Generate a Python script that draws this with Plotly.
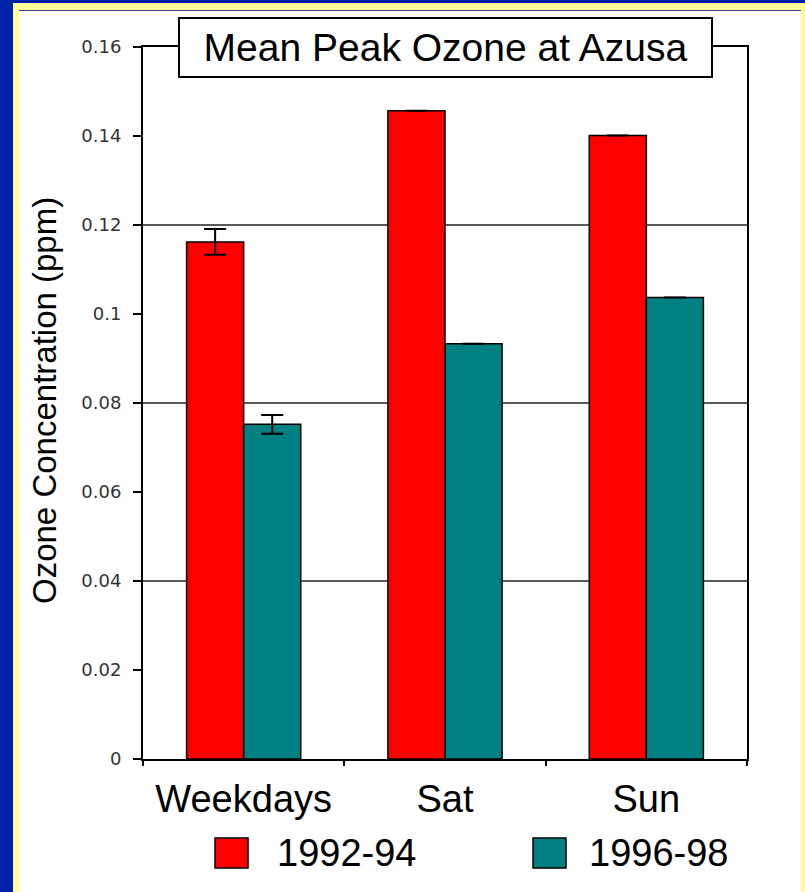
import plotly.graph_objects as go

# ---- data -------------------------------------------------------------
categories = ["Weekdays", "Sat", "Sun"]
series_names = ["1992-94", "1996-98"]
ozone_1992_94 = [0.1162, 0.1457, 0.1401]
ozone_1996_98 = [0.0752, 0.0933, 0.1037]
err_1992_94 = [0.0029, None, None]
err_1996_98 = [0.0021, None, None]
y_ticks = [0, 0.02, 0.04, 0.06, 0.08, 0.10, 0.12, 0.14, 0.16]
y_tick_labels = ["0", "0.02", "0.04", "0.06", "0.08", "0.1", "0.12", "0.14", "0.16"]
grid_values = [0.04, 0.08, 0.12]
title_text = "Mean Peak Ozone at Azusa"
y_title = "Ozone Concentration (ppm)"

# ---- styling ----------------------------------------------------------
RED = "#FF0000"
TEAL = "#008080"
BLUE = "#0022A8"
YELLOW = "#FFFF99"
FONT = "Liberation Sans, Arial, sans-serif"

W, H = 805, 892
L, R, T, B = 143, 747, 47, 759  # plot area edges in pixels


def px(x):
    return (x - L) / (R - L)


def py(y):
    return (B - y) / (B - T)


fig = go.Figure()
for name, vals, errs, color in [
    (series_names[0], ozone_1992_94, err_1992_94, RED),
    (series_names[1], ozone_1996_98, err_1996_98, TEAL),
]:
    fig.add_trace(go.Bar(
        name=name, x=categories, y=vals,
        marker=dict(color=color, line=dict(color="black", width=1.5)),
        error_y=dict(type="data", array=errs, visible=True,
                     color="black", thickness=2, width=11),
        showlegend=False,
    ))

shapes = [
    # slide frame: yellow rule and white panel
    dict(type="rect", xref="paper", yref="paper", layer="below",
         x0=px(13), x1=px(820), y0=py(910), y1=py(3),
         fillcolor=YELLOW, line=dict(width=0)),
    dict(type="rect", xref="paper", yref="paper", layer="below",
         x0=px(19), x1=px(801), y0=py(910), y1=py(10),
         fillcolor="white", line=dict(width=0)),
    dict(type="line", xref="paper", yref="paper", layer="below",
         x0=px(19), x1=px(801), y0=py(10.5), y1=py(10.5),
         line=dict(color="#404088", width=1)),
]
for g in grid_values:
    shapes.append(dict(type="line", xref="paper", yref="y", layer="below",
                       x0=0, x1=1, y0=g, y1=g,
                       line=dict(color="#222222", width=1.5)))

# legend swatches and labels
legend_items = [(RED, 215, 248, 275), (TEAL, 533, 566, 587)]
annotations = []
for (color, xa, xb, xt), name in zip(legend_items, series_names):
    shapes.append(dict(type="rect", xref="paper", yref="paper",
                       x0=px(xa), x1=px(xb), y0=py(868), y1=py(838),
                       fillcolor=color, line=dict(color="black", width=1.5)))
    annotations.append(dict(text=name, xref="paper", yref="paper",
                            x=px(xt), y=py(853), xanchor="left", yanchor="middle",
                            showarrow=False, font=dict(family=FONT, size=38, color="black")))

# boxed title sitting on the top frame line
annotations.append(dict(text=title_text, xref="paper", yref="paper",
                        x=0.5, y=1, xanchor="center", yanchor="middle",
                        showarrow=False, bgcolor="white", bordercolor="black",
                        borderwidth=2, borderpad=0, width=531, height=57,
                        font=dict(family=FONT, size=39, color="black")))
# y-axis title
annotations.append(dict(text=y_title, xref="paper", yref="paper",
                        x=px(44), y=py(401), xanchor="center", yanchor="middle",
                        textangle=-90, showarrow=False,
                        font=dict(family=FONT, size=33, color="black")))

fig.update_layout(
    width=W, height=H,
    margin=dict(l=L, r=W - R, t=T, b=H - B, pad=0),
    paper_bgcolor=BLUE, plot_bgcolor="white",
    barmode="group", bargap=0.433, bargroupgap=0,
    shapes=shapes, annotations=annotations,
    showlegend=False,
)
fig.update_yaxes(
    range=[0, 0.16], tickvals=y_ticks, ticktext=y_tick_labels,
    ticks="outside", ticklen=8, tickwidth=2, tickcolor="black",
    ticklabelstandoff=8,
    showline=True, linecolor="black", linewidth=2, mirror=True,
    showgrid=False, zeroline=False,
    tickfont=dict(family="DejaVu Sans, sans-serif", size=18, color="#333333"),
)
fig.update_xaxes(
    type="category", tickson="boundaries",
    ticks="outside", ticklen=5, tickwidth=2, tickcolor="black",
    ticklabelstandoff=5,
    showline=True, linecolor="black", linewidth=2, mirror=True,
    showgrid=False, zeroline=False,
    tickfont=dict(family=FONT, size=38, color="black"),
)

fig.write_html("out.html")
